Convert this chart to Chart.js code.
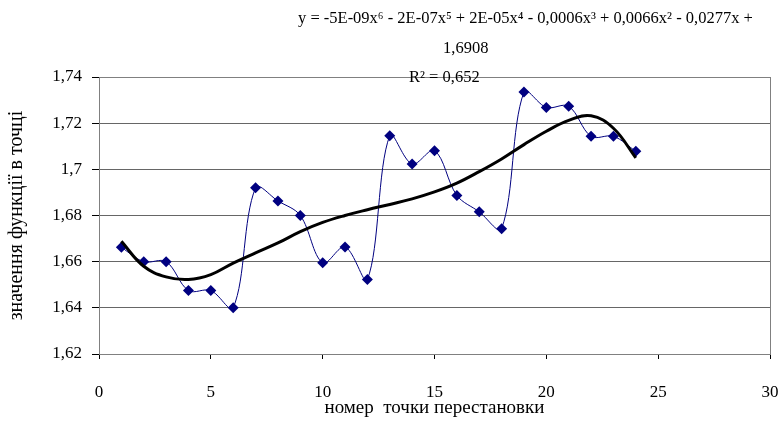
<!DOCTYPE html>
<html>
<head>
<meta charset="utf-8">
<script src="https://cdn.jsdelivr.net/npm/chart.js@4"></script>
<style>
  body { margin: 0; background: #fff; }
  #wrap { width: 781px; height: 425px; }
</style>
</head>
<body>
<div id="wrap"><canvas id="myChart" width="781" height="425"></canvas></div>
<script>
// номер точки перестановки
const pointNumbers = [1, 2, 3, 4, 5, 6, 7, 8, 9, 10, 11, 12, 13, 14, 15, 16, 17, 18, 19, 20, 21, 22, 23, 24];
// значення функції в точці
const funcValues = [1.6662, 1.660, 1.660, 1.6475, 1.6475, 1.640, 1.692, 1.6863, 1.680, 1.6595, 1.6664, 1.6523,
  1.7146, 1.7023, 1.7081, 1.6887, 1.6816, 1.6743, 1.7335, 1.7268, 1.7273, 1.7143, 1.7143, 1.7078];
// polynomial trendline
const trendValues = [1.6688, 1.658, 1.6534, 1.6523, 1.6544, 1.6594, 1.6638, 1.6681, 1.6730, 1.6770, 1.6800, 1.6825,
  1.6848, 1.6872, 1.6902, 1.6940, 1.6990, 1.7045, 1.7107, 1.7165, 1.7212, 1.7232, 1.7178, 1.705];
const xTickLabels = ['0', '5', '10', '15', '20', '25', '30'];
const yTickLabels = ['1,62', '1,64', '1,66', '1,68', '1,7', '1,72', '1,74'];
const equationLines = [
  'y = -5E-09x\u2076 - 2E-07x\u2075 + 2E-05x\u2074 - 0,0006x\u00B3 + 0,0066x\u00B2 - 0,0277x +',
  '1,6908',
  'R\u00B2 = 0,652'
];

const serif = '"Liberation Serif", "Times New Roman", serif';

// trendline label (drawn like Excel's text box, no background)
const equationLabel = {
  id: 'equationLabel',
  afterDraw(chart) {
    const ctx = chart.ctx;
    ctx.save();
    ctx.font = '16.5px ' + serif;
    ctx.fillStyle = '#000';
    ctx.textBaseline = 'middle';
    ctx.textAlign = 'left';
    ctx.fillText(equationLines[0], 298, 19);
    ctx.fillText(equationLines[1], 443, 49);
    ctx.fillText(equationLines[2], 409, 78);
    ctx.restore();
  }
};

// plot area frame
const plotFrame = {
  id: 'plotFrame',
  beforeDatasetsDraw(chart) {
    const {ctx, chartArea} = chart;
    ctx.save();
    ctx.strokeStyle = '#808080';
    ctx.lineWidth = 1;
    ctx.strokeRect(Math.round(chartArea.left) + 0.5, Math.round(chartArea.top) + 0.5,
      Math.round(chartArea.right - chartArea.left), Math.round(chartArea.bottom - chartArea.top));
    ctx.restore();
  }
};

const ctx = document.getElementById('myChart').getContext('2d');
const chart = new Chart(ctx, {
  type: 'line',
  data: {
    datasets: [
      {
        label: 'trend',
        data: pointNumbers.map((x, i) => ({x: x, y: trendValues[i]})),
        borderColor: '#000',
        borderWidth: 3,
        pointRadius: 0,
        tension: 0.4,
        fill: false
      },
      {
        label: 'values',
        data: pointNumbers.map((x, i) => ({x: x, y: funcValues[i]})),
        borderColor: '#000080',
        backgroundColor: '#000080',
        borderWidth: 1,
        pointStyle: 'rectRot',
        pointRadius: 5.5,
        pointBorderWidth: 0,
        tension: 0.35,
        fill: false
      }
    ]
  },
  options: {
    responsive: false,
    devicePixelRatio: 1,
    animation: false,
    layout: { padding: { top: 77, right: 11, left: 0, bottom: 0 } },
    plugins: {
      legend: { display: false },
      tooltip: { enabled: false }
    },
    scales: {
      x: {
        type: 'linear',
        min: 0,
        max: 30,
        afterFit: (scale) => {
          scale.height = 71;
          scale.paddingLeft = 0;
          scale.paddingRight = 0;
        },
        ticks: {
          stepSize: 5,
          color: '#000',
          padding: 23,
          font: { family: serif, size: 17 },
          callback: (v, i) => xTickLabels[i]
        },
        grid: {
          display: true,
          drawOnChartArea: false,
          tickLength: 5,
          tickColor: '#000',
          color: '#000'
        },
        border: { color: '#000', width: 1 },
        title: {
          display: true,
          text: 'номер  точки перестановки',
          color: '#000',
          font: { family: serif, size: 19 },
          padding: { top: 0, bottom: 6 }
        }
      },
      y: {
        min: 1.62,
        max: 1.74,
        afterFit: (scale) => { scale.width = 99; },
        ticks: {
          stepSize: 0.02,
          color: '#000',
          padding: 10,
          font: { family: serif, size: 17 },
          callback: (v, i) => yTickLabels[i]
        },
        grid: {
          color: '#666',
          tickLength: 7,
          tickColor: '#000'
        },
        border: { color: '#000', width: 1 },
        title: {
          display: true,
          text: 'значення функції в точці',
          color: '#000',
          font: { family: serif, size: 20 },
          padding: { top: 5, bottom: 0 }
        }
      }
    }
  },
  plugins: [plotFrame, equationLabel]
});
</script>
</body>
</html>
